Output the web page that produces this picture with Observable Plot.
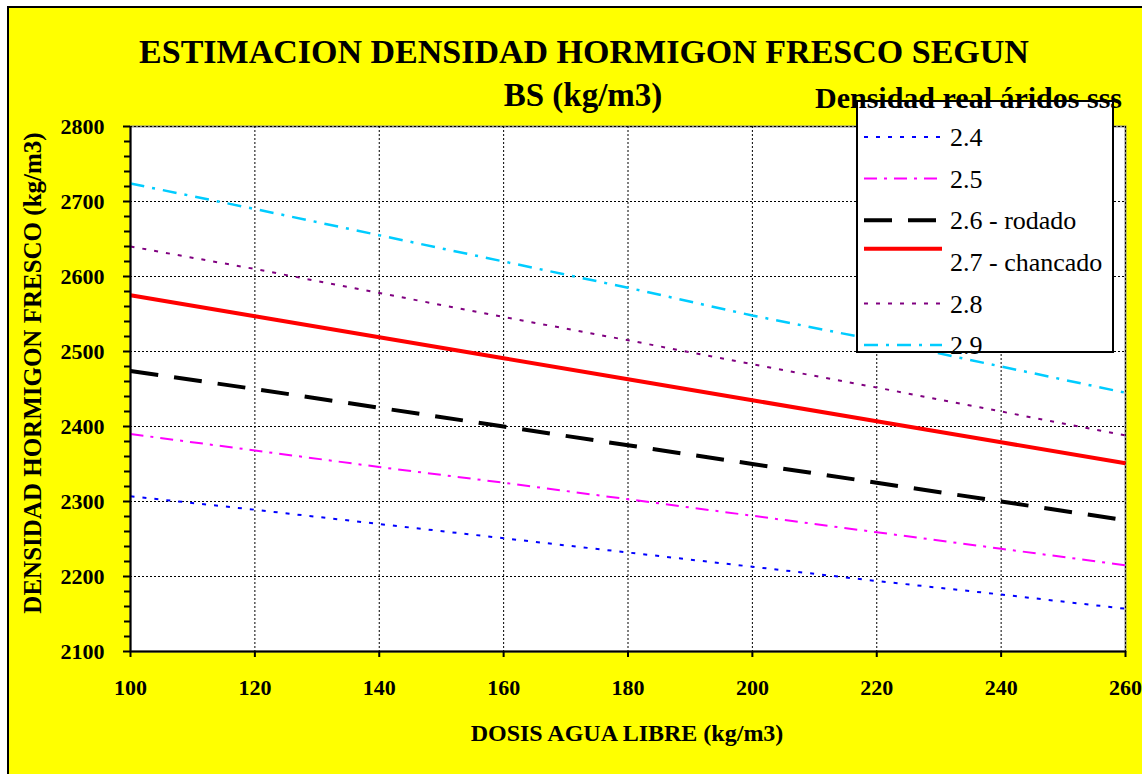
<!DOCTYPE html>
<html>
<head>
<meta charset="utf-8">
<script src="https://cdn.jsdelivr.net/npm/d3@7"></script>
<script src="https://cdn.jsdelivr.net/npm/@observablehq/plot@0.6"></script>
<style>
  html, body { margin: 0; padding: 0; background: #ffffff; }
  #wrap { position: relative; width: 1142px; height: 774px; overflow: hidden; font-family: "Liberation Serif", "Times New Roman", serif; }
  #bg { position: absolute; left: 7px; top: 6px; width: 1200px; height: 800px; background: #ffff00; border-left: 2px solid #000; border-top: 2px solid #000; }
  #chart { position: absolute; left: 0; top: 0; }
  .t { position: absolute; font-weight: bold; color: #000; white-space: nowrap; }
  #legend { position: absolute; left: 856px; top: 100px; width: 254px; height: 249px; background: #fff; border: 2px solid #000; }
  #legend svg { overflow: visible; }
  #legend text { font-family: "Liberation Serif", "Times New Roman", serif; font-size: 26px; fill: #000; }
</style>
</head>
<body>
<div id="wrap">
  <div id="bg"></div>
  <div id="chart"></div>
  <div class="t" style="left:84px; width:1000px; top:30px; text-align:center; font-size:34px; line-height:44px;">ESTIMACION DENSIDAD HORMIGON FRESCO SEGUN</div>
  <div class="t" style="left:383px; width:400px; top:73px; text-align:center; font-size:33px; line-height:44px;">BS (kg/m3)</div>
  <div id="legend"></div>
  <div class="t" style="left:815px; top:78px; font-size:30px; line-height:40px;">Densidad real áridos sss</div>
  <div class="t" style="left:327px; width:600px; top:719px; text-align:center; font-size:24px; line-height:28px;">DOSIS AGUA LIBRE (kg/m3)</div>
  <div class="t" style="left:33px; top:373px; font-size:25px; line-height:28px; transform: translate(-50%,-50%) rotate(-90deg);">DENSIDAD HORMIGON FRESCO (kg/m3)</div>
</div>
<script>
// ---- data ----
const water = [100, 120, 140, 160, 180, 200, 220, 240, 260];
const seriesNames = ["2.4", "2.5", "2.6 - rodado", "2.7 - chancado", "2.8", "2.9"];
const dens24 = [2307, 2289, 2270, 2251, 2232, 2213, 2194, 2176, 2157];
const dens25 = [2390, 2368, 2346, 2325, 2303, 2281, 2259, 2237, 2215];
const dens26 = [2474, 2450, 2425, 2400, 2375, 2350, 2325, 2300, 2275];
const dens27 = [2575, 2547, 2519, 2491, 2463, 2435, 2407, 2379, 2351];
const dens28 = [2640, 2610, 2578, 2546, 2515, 2483, 2452, 2420, 2388];
const dens29 = [2724, 2690, 2655, 2620, 2585, 2548, 2515, 2480, 2445];
const xTicks = [100, 120, 140, 160, 180, 200, 220, 240, 260];
const yTicks = [2100, 2200, 2300, 2400, 2500, 2600, 2700, 2800];
const yMinorTicks = [2120, 2140, 2160, 2180, 2220, 2240, 2260, 2280, 2320, 2340, 2360, 2380, 2420, 2440, 2460, 2480, 2520, 2540, 2560, 2580, 2620, 2640, 2660, 2680, 2720, 2740, 2760, 2780];

const allSeries = [dens24, dens25, dens26, dens27, dens28, dens29];
const styles = [
  {stroke: "#0000ff", width: 2, dash: "4,8"},
  {stroke: "#ff00ff", width: 2, dash: "13,7,3,7"},
  {stroke: "#000000", width: 4, dash: "28,16"},
  {stroke: "#ff0000", width: 4, dash: null},
  {stroke: "#800080", width: 2, dash: "4,8"},
  {stroke: "#00ccff", width: 2.5, dash: "14,8,3,8"}
];

const rows = [];
allSeries.forEach((vals, si) => vals.forEach((v, i) => rows.push({series: seriesNames[si], x: water[i], y: v})));

const font = "'Liberation Serif', 'Times New Roman', serif";

const lineMarks = seriesNames.map((name, si) => Plot.line(rows.filter(d => d.series === name), {
  x: "x", y: "y", stroke: styles[si].stroke, strokeWidth: styles[si].width,
  strokeDasharray: styles[si].dash, strokeLinecap: "butt"
}));

const chart = Plot.plot({
  width: 1142, height: 774,
  marginLeft: 130, marginRight: 17, marginTop: 126, marginBottom: 123,
  style: {background: "transparent", fontFamily: font, color: "#000"},
  x: {domain: [100, 260]},
  y: {domain: [2100, 2800]},
  marks: [
    Plot.frame({fill: "#ffffff", stroke: "#888", strokeWidth: 2}),
    Plot.gridX(xTicks, {stroke: "#000", strokeOpacity: 1, strokeWidth: 1, strokeDasharray: "2,2"}),
    Plot.gridY(yTicks, {stroke: "#000", strokeOpacity: 1, strokeWidth: 1, strokeDasharray: "2,2"}),
    ...lineMarks,
    Plot.axisY(yMinorTicks, {tickSize: 6, tickFormat: () => "", strokeWidth: 2, label: null}),
    Plot.axisY(yTicks, {tickSize: 7, tickPadding: 19, fontSize: 22, fontWeight: "bold", strokeWidth: 2, label: null, tickFormat: d => String(d)}),
    Plot.axisX(xTicks, {tickSize: 6, tickPadding: 22, fontSize: 22, fontWeight: "bold", strokeWidth: 2, label: null, tickFormat: d => String(d)}),
    Plot.ruleX([100], {stroke: "#000", strokeWidth: 2}),
    Plot.ruleY([2100], {stroke: "#000", strokeWidth: 2})
  ]
});
document.getElementById("chart").appendChild(chart);

// ---- legend ----
const ns = "http://www.w3.org/2000/svg";
const lg = document.createElementNS(ns, "svg");
lg.setAttribute("width", 254); lg.setAttribute("height", 249);
seriesNames.forEach((name, i) => {
  const cy = 35 + i * 41.6;
  const ly = i === 3 ? cy - 13 : cy;
  const ln = document.createElementNS(ns, "line");
  ln.setAttribute("x1", 6); ln.setAttribute("x2", 84);
  ln.setAttribute("y1", ly); ln.setAttribute("y2", ly);
  ln.setAttribute("stroke", styles[i].stroke);
  ln.setAttribute("stroke-width", styles[i].width);
  if (styles[i].dash) ln.setAttribute("stroke-dasharray", styles[i].dash);
  lg.appendChild(ln);
  const tx = document.createElementNS(ns, "text");
  tx.setAttribute("x", 92); tx.setAttribute("y", cy);
  tx.setAttribute("dy", "0.35em");
  tx.setAttribute("style", "font-family: 'Liberation Serif', 'Times New Roman', serif; font-size: 26px;");
  tx.textContent = name;
  lg.appendChild(tx);
});
document.getElementById("legend").appendChild(lg);
</script>
</body>
</html>
